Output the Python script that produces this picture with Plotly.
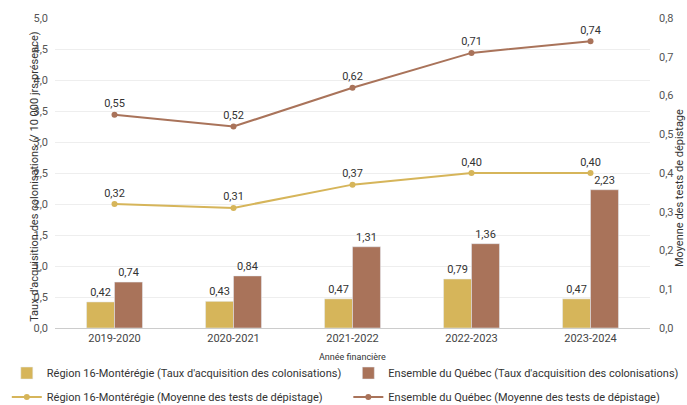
import plotly.graph_objects as go

categories = ["2019-2020", "2020-2021", "2021-2022", "2022-2023", "2023-2024"]
region_taux = [0.42, 0.43, 0.47, 0.79, 0.47]
quebec_taux = [0.74, 0.84, 1.31, 1.36, 2.23]
region_moy = [0.32, 0.31, 0.37, 0.40, 0.40]
quebec_moy = [0.55, 0.52, 0.62, 0.71, 0.74]

YELLOW = "#D6B55A"
BROWN = "#A9735A"
FONT = "Roboto"

fig = go.Figure()
fig.add_trace(go.Bar(x=categories, y=region_taux, name="Région 16-Montérégie (Taux d'acquisition des colonisations)",
                     marker_color=YELLOW, texttemplate="%{y:.2f}", textposition="outside",
                     textfont=dict(size=11, color="#333"), cliponaxis=False,
                     legend="legend", legendgroup="a", legendrank=1))
fig.add_trace(go.Bar(x=categories, y=quebec_taux, name="Ensemble du Québec (Taux d'acquisition des colonisations)",
                     marker_color=BROWN, texttemplate="%{y:.2f}", textposition="outside",
                     textfont=dict(size=11, color="#333"), cliponaxis=False,
                     legend="legend2", legendgroup="c", legendrank=1))
fig.add_trace(go.Scatter(x=categories, y=region_moy, name="Région 16-Montérégie (Moyenne des tests de dépistage)",
                         mode="lines+markers+text", yaxis="y2", line=dict(color=YELLOW, width=2),
                         marker=dict(size=6, color=YELLOW), texttemplate="%{y:.2f}", textposition="top center",
                         textfont=dict(size=11, color="#333"), cliponaxis=False,
                         legend="legend", legendgroup="b", legendrank=2))
fig.add_trace(go.Scatter(x=categories, y=quebec_moy, name="Ensemble du Québec (Moyenne des tests de dépistage)",
                         mode="lines+markers+text", yaxis="y2", line=dict(color=BROWN, width=2),
                         marker=dict(size=6, color=BROWN), texttemplate="%{y:.2f}", textposition="top center",
                         textfont=dict(size=11, color="#333"), cliponaxis=False,
                         legend="legend2", legendgroup="d", legendrank=2))

leg_common = dict(orientation="v", xanchor="left", yanchor="top", font=dict(size=11, color="#333"),
                  tracegroupgap=5, itemwidth=30, bgcolor="rgba(0,0,0,0)")

fig.update_layout(
    width=687, height=405,
    margin=dict(l=55, r=37, t=18, b=77, autoexpand=False),
    paper_bgcolor="white", plot_bgcolor="white",
    font=dict(family=FONT, size=11, color="#444"),
    separators=", ",
    barmode="group", bargap=0.53, bargroupgap=0,
    xaxis=dict(showgrid=False, showline=True, linecolor="#ccc", ticks="",
               tickfont=dict(size=11, color="#444")),
    yaxis=dict(range=[0, 5], dtick=0.5, tickformat=".1f", gridcolor="#eeeeee",
               zeroline=False, tickfont=dict(size=11, color="#555"), ticklabelstandoff=6),
    yaxis2=dict(range=[0, 0.8], dtick=0.1, tickformat=".1f", overlaying="y", side="right",
                showgrid=False, zeroline=False, tickfont=dict(size=11, color="#555"), ticklabelstandoff=8),
    showlegend=True,
    legend=dict(x=-0.081, y=-0.0985, **leg_common),
    legend2=dict(x=0.493, y=-0.0985, **leg_common),
    annotations=[
        dict(text="Taux d'acquisition des colonisations (/ 10 000 jrs-présence)", textangle=-90,
             xref="paper", yref="paper", x=-0.05, y=0.49, showarrow=False,
             font=dict(size=11, color="#333")),
        dict(text="Moyenne des tests de dépistage", textangle=-90,
             xref="paper", yref="paper", x=1.064, y=0.45, showarrow=False,
             font=dict(size=11, color="#333")),
        dict(text="Année financière", xref="paper", yref="paper", x=0.5, y=-0.07,
             yanchor="top", showarrow=False, font=dict(size=9, color="#333")),
    ],
)

fig.write_html("out.html")
